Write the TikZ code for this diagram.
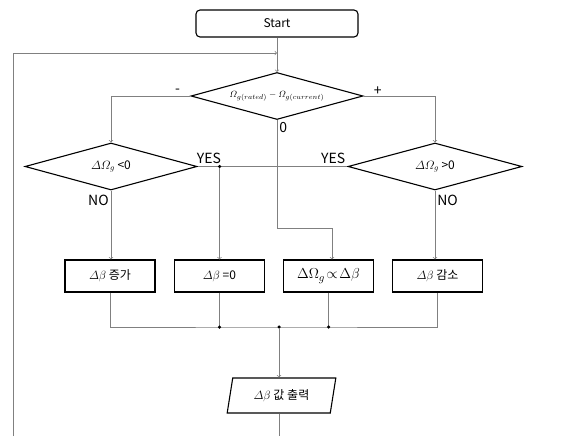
\documentclass[tikz,border=0pt]{standalone}
\usepackage{amsmath}
\usepackage{fontspec}
\setmainfont{Noto Sans CJK KR}
\usetikzlibrary{shapes.geometric}
\tikzset{
  box/.style={draw,line width=1.1pt,minimum width=90pt,minimum height=32pt,inner sep=0pt},
  dec/.style={draw,line width=1.1pt,diamond,aspect=3.7,inner sep=0pt,minimum width=172pt,minimum height=47pt},
  ln/.style={draw=gray,line width=0.7pt},
  lbl/.style={font=\fontsize{14}{14}\selectfont,inner sep=2pt},
  dot/.style={circle,fill,inner sep=0pt,minimum size=3.5pt}
}
\begin{document}
\begin{tikzpicture}[x=1pt,y=-1pt,>=to,font=\fontsize{12}{14}\selectfont]
\useasboundingbox (0,0) rectangle (564,436);
\node[draw,line width=1.1pt,rounded corners=4pt,minimum width=162pt,minimum height=27pt] (start) at (277,23.5) {Start};
\node[dec] (d0) at (277,96) {\fontsize{9.5}{10}\selectfont$\varOmega_{g(rated)}-\varOmega_{g(current)}$};
\node[dec] (d1) at (111,166.5) {$\varDelta\varOmega_g$ <0};
\node[dec,minimum width=174pt] (d2) at (435,166.5) {$\varDelta\varOmega_g$ >0};
\node[box] (b1) at (110,276) {$\varDelta\beta$ 증가};
\node[box] (b2) at (219.5,276) {$\varDelta\beta$ =0};
\node[box] (b3) at (328.5,276) {\fontsize{15}{15}\selectfont$\Delta\Omega_g\!\propto\!\Delta\beta$};
\node[box] (b4) at (437.5,276) {$\varDelta\beta$ 감소};
\node[draw,line width=1.1pt,trapezium,trapezium left angle=75.6,trapezium right angle=104.4,trapezium stretches=true,minimum width=109pt,minimum height=35pt,inner sep=0pt] (out) at (281.5,395.5) {$\varDelta\beta$ 값 출력};
\coordinate (m) at (277,53);
\coordinate (lp) at (13,436);
\coordinate (c0) at (277,228);
\coordinate (j) at (279,327);

\draw[ln,->] (start) -- (d0);
\draw[ln,->] (lp) |- (m);
\draw[ln,->] (d0.west) node[lbl,above left,xshift=-8pt]{-} -| (d1.north);
\draw[ln,->] (d0.east) node[lbl,above right,xshift=8pt,yshift=-2pt]{+} -| (d2.north);
\draw[ln,->] (d0.south) node[lbl,below right]{0} -- (c0) -| ([xshift=3.5pt]b3.north);
\draw[ln] (d1.east) node[lbl,above right,xshift=-3pt]{YES} -- (d2.west) node[lbl,above left]{YES};
\node[dot] (y) at (b2.north |- d1.east) {};
\draw[ln,->] (y) -- (b2);
\draw[ln,->] (d1.south) node[lbl,below left,yshift=-2pt]{NO} -- (d1.south |- b1.north);
\draw[ln,->] (d2.south) node[lbl,below right,yshift=-2pt]{NO} -- (d2.south |- b4.north);
\draw[ln] (b1.south) |- (j) -| (b4.south);
\draw[ln] (b2.south) -- (b2.south |- j);
\draw[ln] (b3.south) -- (b3.south |- j);
\foreach \n in {b2,b3}
  \node[dot] at (\n.south |- j) {};
\node[dot] (jd) at (j) {};
\draw[ln,->] (jd) -- (jd |- out.north);
\draw[ln] (jd |- out.south) -- (jd |- lp);

\end{tikzpicture}
\end{document}
